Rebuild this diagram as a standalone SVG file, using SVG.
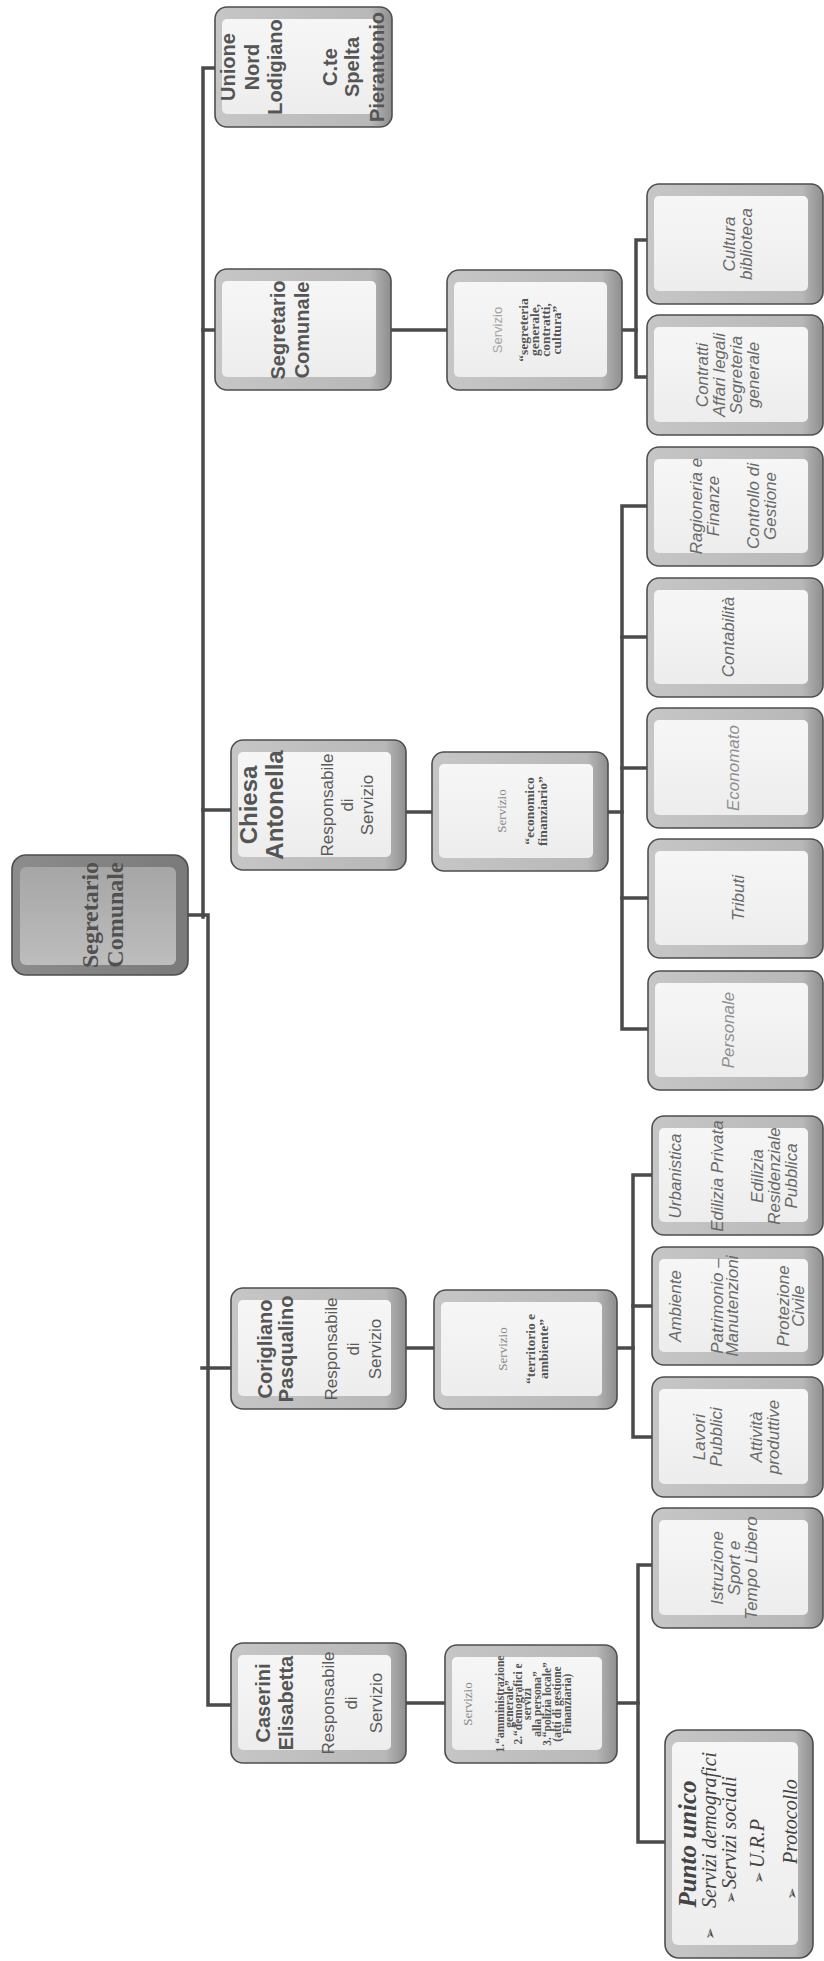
<svg xmlns="http://www.w3.org/2000/svg" width="824" height="1961" viewBox="0 0 824 1961">
<defs>
<linearGradient id="gOuter" x1="0" y1="0" x2="1" y2="0">
<stop offset="0" stop-color="#c6c6c6"/><stop offset="0.88" stop-color="#b8b8b8"/><stop offset="1" stop-color="#8e8e8e"/>
</linearGradient>
<linearGradient id="gInner" x1="0" y1="0" x2="0" y2="1">
<stop offset="0" stop-color="#f6f6f6"/><stop offset="1" stop-color="#ededed"/>
</linearGradient>
<linearGradient id="gRootOuter" x1="0" y1="0" x2="1" y2="0">
<stop offset="0" stop-color="#8c8c8c"/><stop offset="1" stop-color="#7a7a7a"/>
</linearGradient>
<linearGradient id="gRootInner" x1="0" y1="0" x2="0" y2="1">
<stop offset="0" stop-color="#a6a6a6"/><stop offset="1" stop-color="#bdbdbd"/>
</linearGradient>
<style>
.ln{stroke:#4a4a4a;stroke-width:3.5;fill:none;stroke-linecap:square;stroke-linejoin:miter}
.outer{fill:url(#gOuter);stroke:#4e4e4e;stroke-width:1.6}
.inner{fill:url(#gInner)}
.rootOuter{fill:url(#gRootOuter);stroke:#4e4e4e;stroke-width:1.6}
.rootInner{fill:url(#gRootInner)}
.name{font-family:"Liberation Sans",Arial,sans-serif;font-weight:bold;font-size:20px;fill:#555}
.big{font-size:24px}
.role{font-family:"Liberation Sans",Arial,sans-serif;font-size:17px;fill:#5a5a5a}
.svc{font-family:"Liberation Serif","Times New Roman",serif;font-weight:bold;font-size:13.5px;fill:#555}
.svclbl{font-family:"Liberation Serif","Times New Roman",serif;font-size:13px;fill:#8a8a8a}
.svclblS{font-family:"Liberation Sans",Arial,sans-serif;font-size:13px;fill:#a5a5a5}
.small{font-size:11.5px}
.unit{font-family:"Liberation Sans",Arial,sans-serif;font-style:italic;font-size:17px;fill:#6a6a6a}
.light{fill:#909090}
.root{font-family:"Liberation Serif","Times New Roman",serif;font-weight:bold;font-size:24px;fill:#505050}
.pu{font-family:"Liberation Serif","Times New Roman",serif;font-style:italic;font-size:20px;fill:#444}
.puh{font-weight:bold;font-size:25px}
.bul{font-family:"DejaVu Sans",sans-serif;font-style:normal;font-size:15px}
</style>
</defs>
<rect width="824" height="1961" fill="#ffffff"/>

<g id="connectors">
<path class="ln" d="M215,68 H203 V917"/>
<path class="ln" d="M188,915 H208 V1705 H231"/>
<path class="ln" d="M203,330 H215"/>
<path class="ln" d="M203,810 H231"/>
<path class="ln" d="M202,1368 H231"/>
<path class="ln" d="M391,330 H449"/>
<path class="ln" d="M405,812 H432"/>
<path class="ln" d="M405,1348 H434"/>
<path class="ln" d="M405,1703 H445"/>
<path class="ln" d="M620,330 H636"/>
<path class="ln" d="M647,240 H636 V377 H647"/>
<path class="ln" d="M607,812 H622"/>
<path class="ln" d="M647,506 H622 V1029 H648"/>
<path class="ln" d="M622,637 H647"/>
<path class="ln" d="M622,768 H647"/>
<path class="ln" d="M622,898 H648"/>
<path class="ln" d="M617,1348 H633"/>
<path class="ln" d="M652,1175 H633 V1437 H652"/>
<path class="ln" d="M633,1306 H653"/>
<path class="ln" d="M617,1703 H638"/>
<path class="ln" d="M652,1565 H638 V1842 H665"/>
</g>

<g id="root">
<rect class="rootOuter" x="12" y="855" width="176" height="120" rx="14"/>
<rect class="rootInner" x="20" y="867" width="156" height="98" rx="6"/>
<text class="root" transform="translate(100,915) rotate(-90)" text-anchor="middle"><tspan x="0" y="-2">Segretario</tspan><tspan x="0" y="23">Comunale</tspan></text>
</g>

<g id="unione">
<rect class="outer" x="215" y="7" width="177" height="120" rx="12"/>
<rect class="inner" x="222" y="19" width="155" height="95" rx="5"/>
<text class="name" transform="translate(303,67) rotate(-90)" text-anchor="middle"><tspan x="0" y="-68">Unione</tspan><tspan x="0" y="-44">Nord</tspan><tspan x="0" y="-21">Lodigiano</tspan><tspan x="0" y="34">C.te</tspan><tspan x="0" y="56">Spelta</tspan><tspan x="0" y="81">Pierantonio</tspan></text>
</g>

<g id="segretario">
<rect class="outer" x="215" y="269" width="176" height="121" rx="12"/>
<rect class="inner" x="222" y="281" width="154" height="96" rx="5"/>
<text class="name" transform="translate(303,330) rotate(-90)" text-anchor="middle"><tspan x="0" y="-18">Segretario</tspan><tspan x="0" y="6">Comunale</tspan></text>
</g>

<g id="chiesa">
<rect class="outer" x="231" y="740" width="175" height="130" rx="12"/>
<rect class="inner" x="238" y="752" width="153" height="105" rx="5"/>
<text class="name big" transform="translate(318,805) rotate(-90)" text-anchor="middle"><tspan x="0" y="-61">Chiesa</tspan><tspan x="0" y="-35">Antonella</tspan></text>
<text class="role" transform="translate(318,805) rotate(-90)" text-anchor="middle"><tspan x="0" y="15">Responsabile</tspan><tspan x="0" y="35">di</tspan><tspan x="0" y="55">Servizio</tspan></text>
</g>

<g id="corigliano">
<rect class="outer" x="231" y="1288" width="175" height="121" rx="12"/>
<rect class="inner" x="238" y="1300" width="153" height="96" rx="5"/>
<text class="name" transform="translate(318,1349) rotate(-90)" text-anchor="middle"><tspan x="0" y="-46">Corigliano</tspan><tspan x="0" y="-25">Pasqualino</tspan></text>
<text class="role" transform="translate(318,1349) rotate(-90)" text-anchor="middle"><tspan x="0" y="19">Responsabile</tspan><tspan x="0" y="41">di</tspan><tspan x="0" y="63">Servizio</tspan></text>
</g>

<g id="caserini">
<rect class="outer" x="231" y="1643" width="175" height="120" rx="12"/>
<rect class="inner" x="238" y="1655" width="153" height="95" rx="5"/>
<text class="name" transform="translate(318,1703) rotate(-90)" text-anchor="middle"><tspan x="0" y="-48">Caserini</tspan><tspan x="0" y="-25">Elisabetta</tspan></text>
<text class="role" transform="translate(318,1703) rotate(-90)" text-anchor="middle"><tspan x="0" y="16">Responsabile</tspan><tspan x="0" y="39">di</tspan><tspan x="0" y="64">Servizio</tspan></text>
</g>

<g id="srv-segreteria">
<rect class="outer" x="447" y="270" width="175" height="120" rx="12"/>
<rect class="inner" x="454" y="282" width="153" height="95" rx="5"/>
<text class="svclblS" transform="translate(534,330) rotate(-90)" text-anchor="middle"><tspan x="0" y="-32">Servizio</tspan></text>
<text class="svc" transform="translate(534,330) rotate(-90)" text-anchor="middle"><tspan x="0" y="-6">“segreteria</tspan><tspan x="0" y="5">generale,</tspan><tspan x="0" y="16">contratti,</tspan><tspan x="0" y="27">cultura”</tspan></text>
</g>

<g id="srv-economico">
<rect class="outer" x="432" y="752" width="176" height="119" rx="12"/>
<rect class="inner" x="439" y="764" width="154" height="94" rx="5"/>
<text class="svclbl" transform="translate(520,811) rotate(-90)" text-anchor="middle"><tspan x="0" y="-14">Servizio</tspan></text>
<text class="svc" transform="translate(520,811) rotate(-90)" text-anchor="middle"><tspan x="0" y="14">“economico</tspan><tspan x="0" y="27">finanziario”</tspan></text>
</g>

<g id="srv-territorio">
<rect class="outer" x="434" y="1290" width="183" height="119" rx="12"/>
<rect class="inner" x="441" y="1302" width="161" height="94" rx="5"/>
<text class="svclbl" transform="translate(525,1349) rotate(-90)" text-anchor="middle"><tspan x="0" y="-18">Servizio</tspan></text>
<text class="svc" transform="translate(525,1349) rotate(-90)" text-anchor="middle"><tspan x="0" y="10">“territorio e</tspan><tspan x="0" y="23">ambiente”</tspan></text>
</g>

<g id="srv-amministrazione">
<rect class="outer" x="445" y="1645" width="172" height="118" rx="12"/>
<rect class="inner" x="452" y="1657" width="150" height="93" rx="5"/>
<text class="svclbl" transform="translate(531,1704) rotate(-90)" text-anchor="middle" font-size="14"><tspan x="0" y="-59">Servizio</tspan></text>
<text class="svc small" transform="translate(531,1704) rotate(-90)" text-anchor="middle"><tspan x="0" y="-27">1.“amministrazione</tspan><tspan x="0" y="-18">generale”</tspan><tspan x="0" y="-9">2.“demografici e</tspan><tspan x="0" y="0">servizi</tspan><tspan x="0" y="10">alla persona”</tspan><tspan x="0" y="20">3.“polizia locale”</tspan><tspan x="0" y="30">(atti di gestione</tspan><tspan x="0" y="40">Finanziaria)</tspan></text>
</g>

<g id="cultura">
<rect class="outer" x="647" y="184" width="176" height="120" rx="12"/>
<rect class="inner" x="654" y="196" width="154" height="95" rx="5"/>
<text class="unit" transform="translate(735,244) rotate(-90)" text-anchor="middle"><tspan x="0" y="0">Cultura</tspan><tspan x="0" y="17">biblioteca</tspan></text>
</g>

<g id="contratti">
<rect class="outer" x="647" y="315" width="176" height="120" rx="12"/>
<rect class="inner" x="654" y="327" width="154" height="95" rx="5"/>
<text class="unit" transform="translate(735,375) rotate(-90)" text-anchor="middle"><tspan x="0" y="-27">Contratti</tspan><tspan x="0" y="-10">Affari legali</tspan><tspan x="0" y="7">Segreteria</tspan><tspan x="0" y="24">generale</tspan></text>
</g>

<g id="ragioneria">
<rect class="outer" x="647" y="447" width="176" height="119" rx="12"/>
<rect class="inner" x="654" y="459" width="154" height="94" rx="5"/>
<text class="unit" transform="translate(735,506) rotate(-90)" text-anchor="middle"><tspan x="0" y="-33">Ragioneria e</tspan><tspan x="0" y="-16">Finanze</tspan><tspan x="0" y="24">Controllo di</tspan><tspan x="0" y="41">Gestione</tspan></text>
</g>

<g id="contabilita">
<rect class="outer" x="647" y="578" width="176" height="119" rx="12"/>
<rect class="inner" x="654" y="590" width="154" height="94" rx="5"/>
<text class="unit" transform="translate(735,637) rotate(-90)" text-anchor="middle"><tspan x="0" y="-1">Contabilità</tspan></text>
</g>

<g id="economato">
<rect class="outer" x="647" y="708" width="176" height="120" rx="12"/>
<rect class="inner" x="654" y="720" width="154" height="95" rx="5"/>
<text class="unit light" transform="translate(735,768) rotate(-90)" text-anchor="middle"><tspan x="0" y="4">Economato</tspan></text>
</g>

<g id="tributi">
<rect class="outer" x="648" y="839" width="175" height="119" rx="12"/>
<rect class="inner" x="655" y="851" width="153" height="94" rx="5"/>
<text class="unit" transform="translate(735,898) rotate(-90)" text-anchor="middle"><tspan x="0" y="9">Tributi</tspan></text>
</g>

<g id="personale">
<rect class="outer" x="648" y="971" width="175" height="119" rx="12"/>
<rect class="inner" x="655" y="983" width="153" height="94" rx="5"/>
<text class="unit light" transform="translate(735,1030) rotate(-90)" text-anchor="middle"><tspan x="0" y="-1">Personale</tspan></text>
</g>

<g id="urbanistica">
<rect class="outer" x="652" y="1116" width="171" height="119" rx="12"/>
<rect class="inner" x="659" y="1128" width="149" height="94" rx="5"/>
<text class="unit" transform="translate(737,1176) rotate(-90)" text-anchor="middle"><tspan x="0" y="-56">Urbanistica</tspan><tspan x="0" y="-14">Edilizia Privata</tspan><tspan x="0" y="26">Edilizia</tspan><tspan x="0" y="43">Residenziale</tspan><tspan x="0" y="60">Pubblica</tspan></text>
</g>

<g id="ambiente">
<rect class="outer" x="652" y="1247" width="171" height="118" rx="12"/>
<rect class="inner" x="659" y="1259" width="149" height="93" rx="5"/>
<text class="unit" transform="translate(737,1306) rotate(-90)" text-anchor="middle"><tspan x="0" y="-56">Ambiente</tspan><tspan x="0" y="-14">Patrimonio –</tspan><tspan x="0" y="1">Manutenzioni</tspan><tspan x="0" y="52">Protezione</tspan><tspan x="0" y="67">Civile</tspan></text>
</g>

<g id="lavori">
<rect class="outer" x="652" y="1377" width="171" height="120" rx="12"/>
<rect class="inner" x="659" y="1389" width="149" height="95" rx="5"/>
<text class="unit" transform="translate(737,1437) rotate(-90)" text-anchor="middle"><tspan x="0" y="-32">Lavori</tspan><tspan x="0" y="-15">Pubblici</tspan><tspan x="0" y="25">Attività</tspan><tspan x="0" y="42">produttive</tspan></text>
</g>

<g id="istruzione">
<rect class="outer" x="652" y="1508" width="171" height="120" rx="12"/>
<rect class="inner" x="659" y="1520" width="149" height="95" rx="5"/>
<text class="unit" transform="translate(737,1568) rotate(-90)" text-anchor="middle"><tspan x="0" y="-14">Istruzione</tspan><tspan x="0" y="3">Sport e</tspan><tspan x="0" y="20">Tempo Libero</tspan></text>
</g>

<g id="punto-unico">
<rect class="outer" x="665" y="1730" width="148" height="228" rx="14"/>
<rect class="inner" x="672" y="1742" width="126" height="203" rx="6"/>
<text class="pu puh" transform="translate(739,1844) rotate(-90)" text-anchor="middle"><tspan x="0" y="-43">Punto unico</tspan></text>
<text class="pu" transform="translate(739,1844) rotate(-90)" text-anchor="start"><tspan class="bul" x="-96" y="-24">➢</tspan><tspan x="-64" y="-23">Servizi demografici</tspan><tspan class="bul" x="-60" y="-3">➢</tspan><tspan x="-45" y="-3">Servizi sociali</tspan><tspan class="bul" x="-40" y="25">➢</tspan><tspan x="-24" y="25">U.R.P</tspan><tspan class="bul" x="-56" y="58">➢</tspan><tspan x="-20" y="58">Protocollo</tspan></text>
</g>
</svg>
